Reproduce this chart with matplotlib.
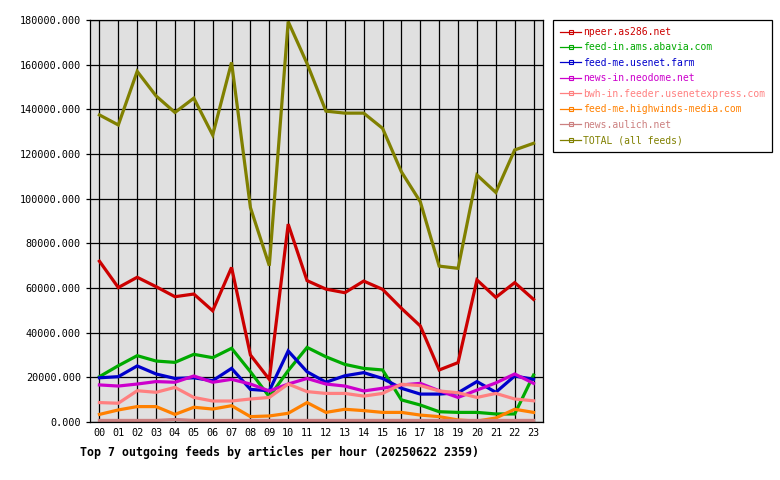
import numpy as np
import matplotlib
matplotlib.use("Agg")
import matplotlib.pyplot as plt
from matplotlib.lines import Line2D
from matplotlib.ticker import FuncFormatter

# ---------------------------------------------------------
# data (articles per hour)
# ---------------------------------------------------------
hours = [f"{h:02d}" for h in range(24)]

feeds = [
    "npeer.as286.net",
    "feed-in.ams.abavia.com",
    "feed-me.usenet.farm",
    "news-in.neodome.net",
    "bwh-in.feeder.usenetexpress.com",
    "feed-me.highwinds-media.com",
    "news.aulich.net",
    "TOTAL (all feeds)",
]

npeer = [72000, 60200, 64800, 60600, 56100, 57300, 49800, 69200, 30000, 19100,
         88600, 63300, 59500, 57900, 63100, 59400, 50900, 43000, 23300, 26600,
         63600, 55800, 62400, 54900]
abavia = [20300, 25200, 29700, 27300, 26700, 30300, 28800, 33000, 22500, 11300,
          23000, 33400, 29200, 25800, 24000, 23300, 9900, 7600, 4600, 4300,
          4300, 3600, 3600, 21000]
usenet_farm = [19800, 20300, 25100, 21500, 19500, 19800, 18500, 24000, 14600, 14000,
               31800, 22500, 17800, 20700, 22100, 19500, 15100, 12500, 12500, 13100,
               18100, 13300, 20600, 19100]
neodome = [16600, 16100, 17000, 18100, 17800, 20600, 17800, 19100, 17000, 13900,
           17000, 19500, 17000, 16100, 13900, 15100, 16600, 17300, 14000, 11000,
           14300, 17500, 21500, 17300]
usenetexpress = [8700, 8400, 14000, 13300, 15500, 11000, 9400, 9400, 10300, 11000,
                 17000, 13600, 12800, 12800, 11600, 12800, 16900, 16300, 13900, 13100,
                 11000, 12800, 10300, 9500]
highwinds = [3400, 5400, 6900, 6900, 3400, 6600, 5800, 7300, 2400, 2700,
             3900, 8700, 4300, 5700, 5100, 4300, 4300, 3100, 2400, 900,
             400, 1800, 5700, 4300]
aulich = [700, 700, 700, 700, 1100, 700, 700, 700, 700, 700,
          700, 700, 700, 700, 700, 700, 700, 700, 700, 700,
          700, 700, 700, 700]
total = [137500, 133000, 157000, 146000, 138600, 145000, 128500, 161000, 96000, 70000,
         179300, 160500, 139200, 138300, 138300, 131500, 112000, 98600, 69800, 68800,
         110600, 102800, 121800, 124800]

series = [npeer, abavia, usenet_farm, neodome, usenetexpress, highwinds, aulich, total]
colors = ["#cc0000", "#00aa00", "#0000cc", "#cc00cc", "#ff8080", "#ff8000", "#cc8080", "#808000"]

title = "Top 7 outgoing feeds by articles per hour (20250622 2359)"

# ---------------------------------------------------------
# plot
# ---------------------------------------------------------
plt.rcParams["font.family"] = ["DejaVu Sans Mono"]

fig = plt.figure(figsize=(7.8, 4.8), dpi=100)
ax = fig.add_axes([90 / 780, 1 - 422 / 480, 453 / 780, 402 / 480])
ax.set_facecolor("#e0e0e0")

x = np.arange(len(hours))
for vals, col in zip(series, colors):
    ax.plot(x, vals, color=col, linewidth=2.3, solid_joinstyle="miter")

ax.set_xlim(-0.5, 23.5)
ax.set_ylim(0, 180000)
ax.set_xticks(x)
ax.set_xticklabels(hours)
ax.set_yticks(np.arange(0, 180001, 20000))
ax.yaxis.set_major_formatter(FuncFormatter(lambda v, p: f"{v:.3f}"))

ax.grid(True, color="black", linewidth=0.9)
ax.set_axisbelow(True)
for sp in ax.spines.values():
    sp.set_color("black")
    sp.set_linewidth(0.9)

ax.tick_params(axis="x", length=0, pad=4.5, labelsize=7.3)
ax.tick_params(axis="y", length=3, width=0.9, pad=3.5, labelsize=7.3)

fig.text(80 / 780, 1 - 452 / 480, title, ha="left", va="center",
         fontsize=8.4, fontweight="bold")

# legend: thin line with a small hollow square, coloured labels
handles = [Line2D([0], [0], color=c, linewidth=0.9, marker="s", markersize=2.5,
                  markerfacecolor="none", markeredgewidth=0.8) for c in colors]
leg = ax.legend(handles, feeds, loc="upper left",
                bbox_to_anchor=(553 / 780, 1 - 20 / 480), bbox_transform=fig.transFigure,
                borderaxespad=0, fontsize=7.0, labelcolor=colors,
                handlelength=2.2, handletextpad=0.2, labelspacing=0.56,
                borderpad=0.72, fancybox=False, framealpha=1, edgecolor="black")
leg.get_frame().set_linewidth(0.9)

fig.savefig("out.png", dpi=100)
